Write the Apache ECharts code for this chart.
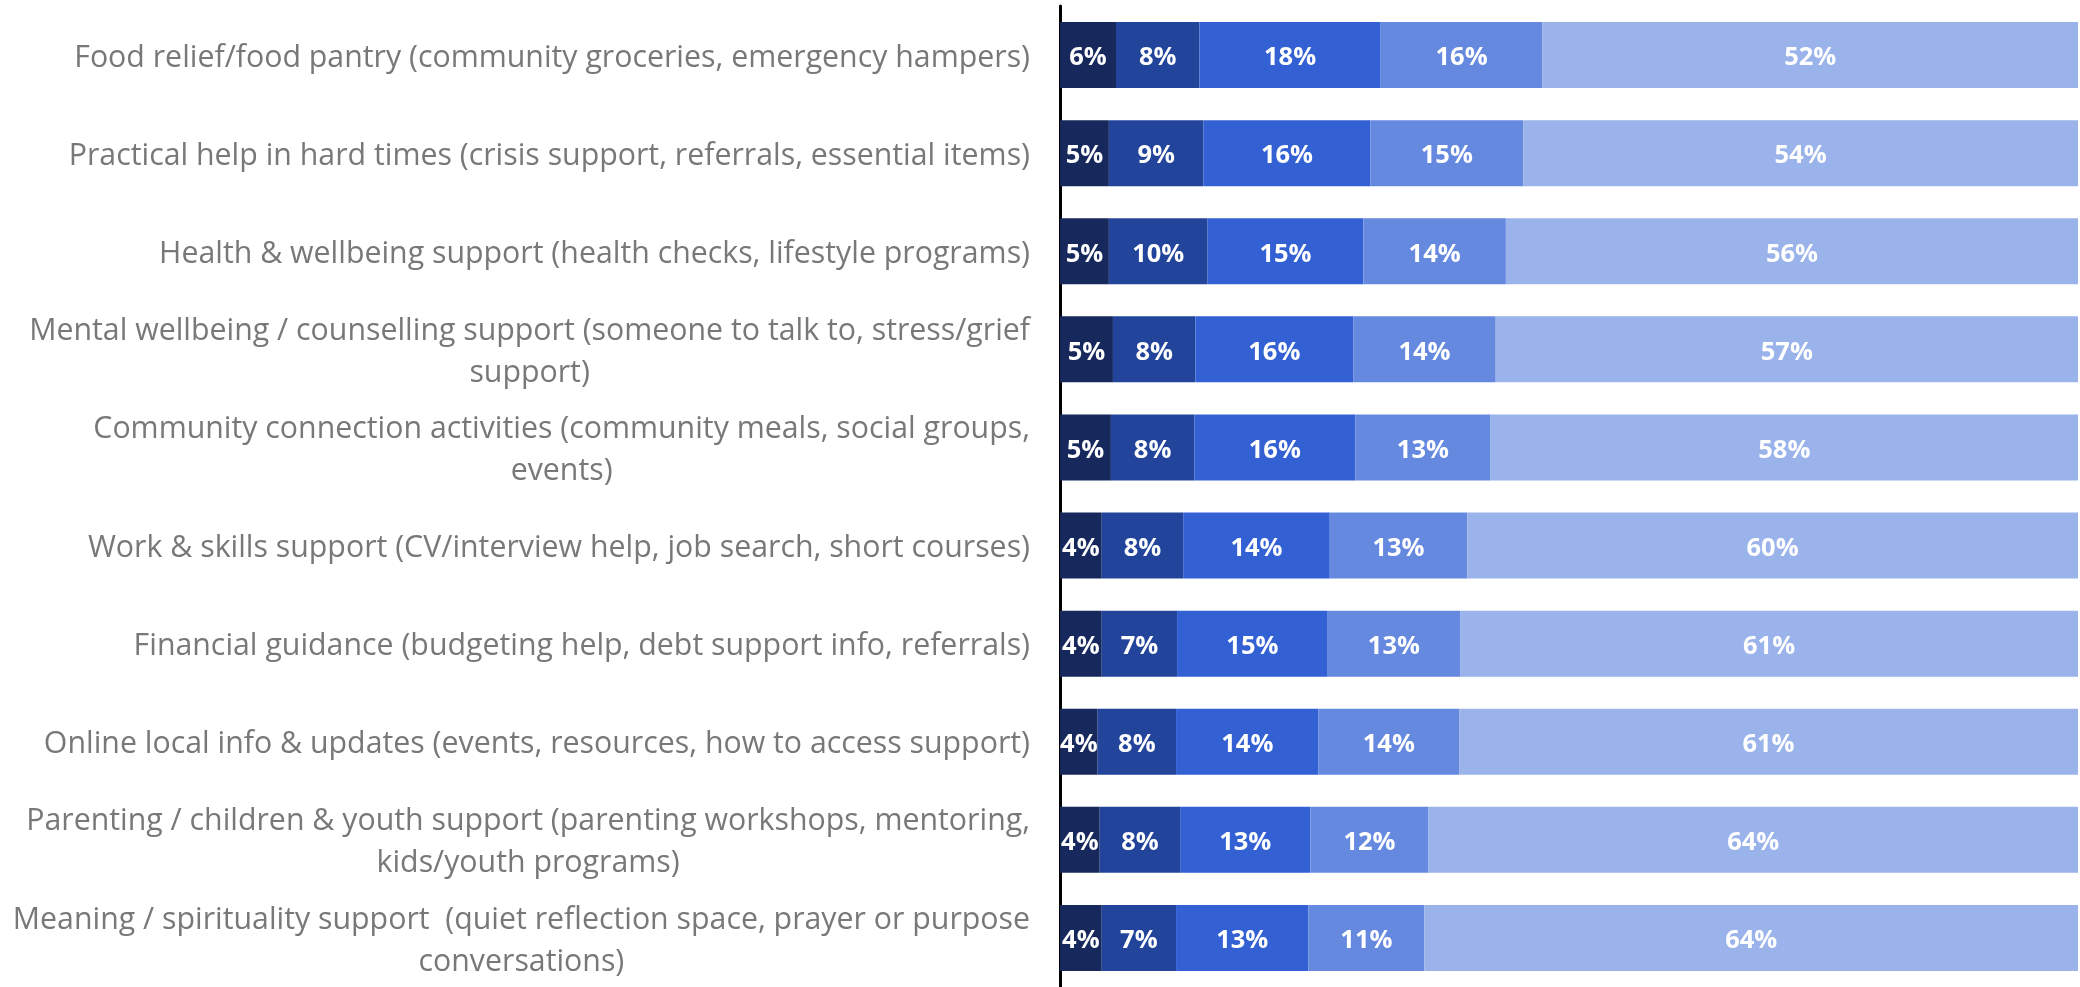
<!DOCTYPE html>
<html>
<head>
<meta charset="utf-8">
<script src="https://cdn.jsdelivr.net/npm/echarts@6/dist/echarts.min.js"></script>
<style>
html,body{margin:0;padding:0;background:#fff;}
#chart{width:2080px;height:987px;}
</style>
</head>
<body>
<div id="chart"></div>
<script>
const categories = [
  "Food relief/food pantry (community groceries, emergency hampers)",
  "Practical help in hard times (crisis support, referrals, essential items)",
  "Health & wellbeing support (health checks, lifestyle programs)",
  "Mental wellbeing / counselling support (someone to talk to, stress/grief\nsupport)",
  "Community connection activities (community meals, social groups,\nevents)",
  "Work & skills support (CV/interview help, job search, short courses)",
  "Financial guidance (budgeting help, debt support info, referrals)",
  "Online local info & updates (events, resources, how to access support)",
  "Parenting / children & youth support (parenting workshops, mentoring,\nkids/youth programs)",
  "Meaning / spirituality support  (quiet reflection space, prayer or purpose\nconversations)"
];
const seriesNames = ["Level 1", "Level 2", "Level 3", "Level 4", "Level 5"];
const level1 = [5.5, 4.8, 4.8, 5.2, 5.0, 4.1, 4.1, 3.7, 3.9, 4.1];
const level2 = [8.2, 9.3, 9.7, 8.1, 8.2, 8.0, 7.4, 7.7, 7.9, 7.3];
const level3 = [17.8, 16.4, 15.3, 15.5, 15.8, 14.4, 14.8, 14.0, 12.8, 13.0];
const level4 = [15.9, 15.0, 14.0, 14.0, 13.3, 13.5, 13.0, 13.8, 11.6, 11.4];
const level5 = [52.6, 54.5, 56.2, 57.2, 57.7, 60.0, 60.7, 60.8, 63.8, 64.2];
const labels1 = [6, 5, 5, 5, 5, 4, 4, 4, 4, 4];
const labels2 = [8, 9, 10, 8, 8, 8, 7, 8, 8, 7];
const labels3 = [18, 16, 15, 16, 16, 14, 15, 14, 13, 13];
const labels4 = [16, 15, 14, 14, 13, 13, 13, 14, 12, 11];
const labels5 = [52, 54, 56, 57, 58, 60, 61, 61, 64, 64];
const colors = ["#17295c", "#22449a", "#3361d4", "#6689e0", "#9ab3ea"];

const values = [level1, level2, level3, level4, level5];
const labelSets = [labels1, labels2, labels3, labels4, labels5];

const chart = echarts.init(document.getElementById('chart'), null, {renderer: 'canvas'});
chart.setOption({
  animation: false,
  backgroundColor: '#ffffff',
  grid: {left: 1060, right: 2, top: 6, height: 986, containLabel: false},
  xAxis: {type: 'value', min: 0, max: 100, show: false},
  yAxis: {
    type: 'category',
    data: categories,
    inverse: true,
    axisTick: {show: false},
    axisLine: {show: true, lineStyle: {color: '#000000', width: 3}},
    axisLabel: {
      margin: 30,
      color: '#787878',
      fontFamily: 'Open Sans',
      fontSize: 30.3,
      lineHeight: 42,
      padding: [6, 0, 0, 0],
      formatter: function (v) {
        return v.split('\n').map(function (l) { return '{c|' + l + '}'; }).join('\n');
      },
      rich: {c: {align: 'center', color: '#787878', fontFamily: 'Open Sans', fontSize: 30.3, lineHeight: 42}}
    }
  },
  series: values.map(function (arr, i) {
    return {
      name: seriesNames[i],
      type: 'bar',
      stack: 'total',
      barWidth: 66,
      itemStyle: {color: colors[i]},
      data: arr,
      label: {
        show: true,
        position: 'inside',
        offset: [0, 3],
        color: '#ffffff',
        fontFamily: 'Open Sans',
        fontWeight: 'bold',
        fontSize: 25.5,
        formatter: function (p) { return labelSets[i][p.dataIndex] + '%'; }
      }
    };
  })
});
</script>
</body>
</html>
